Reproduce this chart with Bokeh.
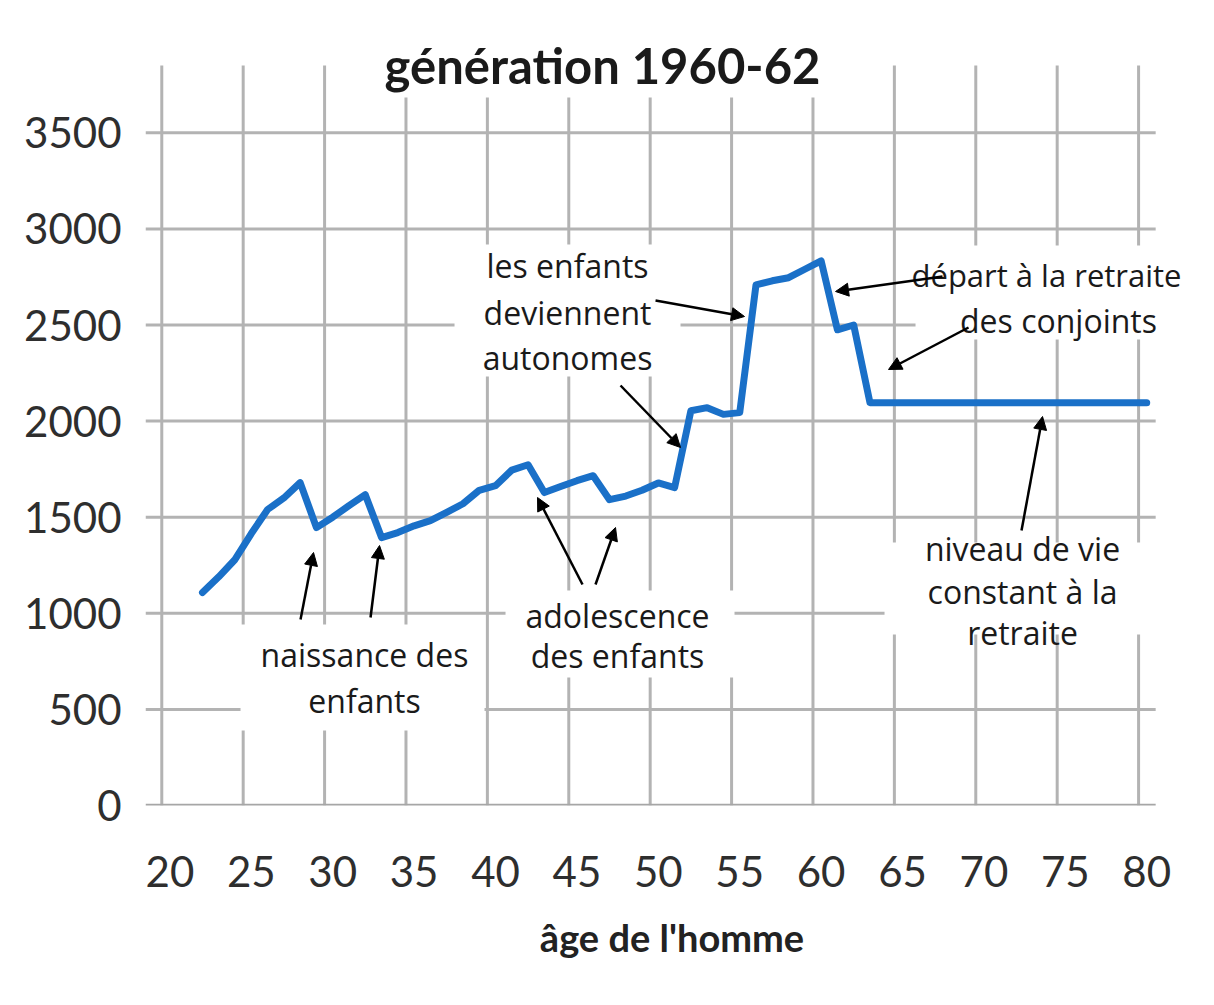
from bokeh.plotting import figure
from bokeh.models import (Range1d, FixedTicker, Label, Arrow, NormalHead,
                          BoxAnnotation)
from bokeh.embed import file_html
from bokeh.resources import INLINE

# ---- data -------------------------------------------------------------
ages = list(range(22, 81))
niveau = [1108, 1190, 1280, 1415, 1540, 1600, 1680, 1446, 1500, 1560,
          1617, 1394, 1420, 1455, 1482, 1525, 1570, 1640, 1664, 1745,
          1773, 1628, 1660, 1690, 1716, 1591, 1610, 1640, 1678, 1654,
          2054, 2070, 2035, 2044, 2709, 2730, 2746, 2790, 2834, 2475,
          2500, 2096] + [2096] * 17

x_tick_values = [20, 25, 30, 35, 40, 45, 50, 55, 60, 65, 70, 75, 80]
y_tick_values = [0, 500, 1000, 1500, 2000, 2500, 3000, 3500]

title_text = "génération 1960-62"
x_title = "âge de l'homme"

annotations = [
    ["naissance des", "enfants"],
    ["adolescence", "des enfants"],
    ["les enfants", "deviennent", "autonomes"],
    ["départ à la retraite", "des conjoints"],
    ["niveau de vie", "constant à la", "retraite"],
]

# ---- figure -------------------------------------------------------------
W, H = 1198, 989
PX_X = 16.28      # pixels per year
PX_Y = 0.1922     # pixels per unit
X0 = 18.5
X_END_GRID = 80.55
Y_TOP_GRID = 3850
p = figure(width=W, height=H, output_backend="svg", toolbar_location=None,
           x_range=Range1d(X0, X0 + (W - 145) / PX_X),
           y_range=Range1d(0, 805 / PX_Y),
           min_border_left=145, min_border_right=0, min_border_top=0,
           min_border_bottom=184)
p.outline_line_color = None
p.background_fill_color = "white"
p.border_fill_color = "white"
p.xgrid.visible = False
p.ygrid.visible = False

GRID = "#b3b3b3"
# grid lines (bounded like in the original chart)
vx = [t - 0.5 for t in x_tick_values]
p.segment(x0=vx, y0=[0] * len(vx), x1=vx, y1=[Y_TOP_GRID] * len(vx),
          line_color=GRID, line_width=3)
hy = y_tick_values[1:]
p.segment(x0=[X0] * len(hy), y0=hy, x1=[X_END_GRID] * len(hy), y1=hy,
          line_color=GRID, line_width=3)
# horizontal axis line
p.segment(x0=[X0], y0=[0], x1=[X_END_GRID], y1=[0], line_color="#a6a6a6",
          line_width=3.5)

p.xaxis.ticker = FixedTicker(ticks=x_tick_values)
p.yaxis.ticker = FixedTicker(ticks=y_tick_values)
for ax in (p.xaxis, p.yaxis):
    ax.axis_line_color = None
    ax.major_tick_in = 0
    ax.major_tick_out = 0
    ax.minor_tick_in = 0
    ax.minor_tick_out = 0
    ax.major_label_text_font = "Lato"
    ax.major_label_text_font_size = "42px"
    ax.major_label_text_color = "#2e2e2e"
p.yaxis.major_label_standoff = 24
p.xaxis.major_label_standoff = 50
p.xaxis.axis_label = x_title
p.xaxis.axis_label_text_font = "Lato"
p.xaxis.axis_label_text_font_style = "bold"
p.xaxis.axis_label_text_font_size = "38px"
p.xaxis.axis_label_text_color = "#222222"
p.xaxis.axis_label_standoff = 24

# ---- line -------------------------------------------------------------------
p.line(ages, niveau, line_color="#1a70c8", line_width=7, line_join="round",
       line_cap="round")

# ---- helpers: reference-picture pixel -> data -------------------------------
def ax_(X):
    return 20 + (X - 177.4) / PX_X

def vy(Y):
    return (813 - Y) / PX_Y

def box(x0, x1, y0, y1):
    p.add_layout(BoxAnnotation(left=ax_(x0), right=ax_(x1), top=vy(y0),
                               bottom=vy(y1), fill_color="white",
                               fill_alpha=1, line_color=None, level="overlay"))

def lines(texts, cx, ys, size="32px"):
    for t, y in zip(texts, ys):
        p.add_layout(Label(x=ax_(cx), y=vy(y), text=t, text_align="center",
                           text_baseline="middle", text_font="Open Sans",
                           text_font_size=size, text_color="#1a1a1a",
                           level="overlay"))

def arrow(x0, y0, x1, y1):
    p.add_layout(Arrow(x_start=ax_(x0), y_start=vy(y0), x_end=ax_(x1),
                       y_end=vy(y1), line_width=2.5, line_color="black",
                       end=NormalHead(size=13, fill_color="black",
                                      line_color="black"),
                       level="overlay"))

# title box
box(380, 840, 45, 105)
p.add_layout(Label(x=ax_(610), y=vy(72), text=title_text, text_align="center",
                   text_baseline="middle", text_font="Lato",
                   text_font_style="bold", text_font_size="49px",
                   text_color="#1a1a1a", level="overlay"))

# annotation boxes
box(248, 492, 632, 738)
box(513, 742, 598, 685)
box(462, 688, 252, 384)
box(923, 1240, 253, 347)
box(892, 1165, 550, 642)

lines(annotations[0], 372, [662, 708])
lines(annotations[1], 625, [623, 663])
lines(annotations[2], 575, [273, 320, 365])
lines(annotations[3][:1], 1054, [282], size="31px")
lines(annotations[3][1:], 1066, [328])
lines(annotations[4], 1030, [556, 599, 640])

arrow(308, 627, 321, 560)
arrow(378, 625, 387, 553)
arrow(590, 592, 545, 505)
arrow(603, 592, 623, 535)
arrow(663, 308, 752, 324)
arrow(628, 393, 688, 455)
arrow(950, 284, 843, 299)
arrow(976, 335, 896, 377)
arrow(1029, 538, 1050, 424)

open("out.html", "w").write(file_html(p, INLINE))
